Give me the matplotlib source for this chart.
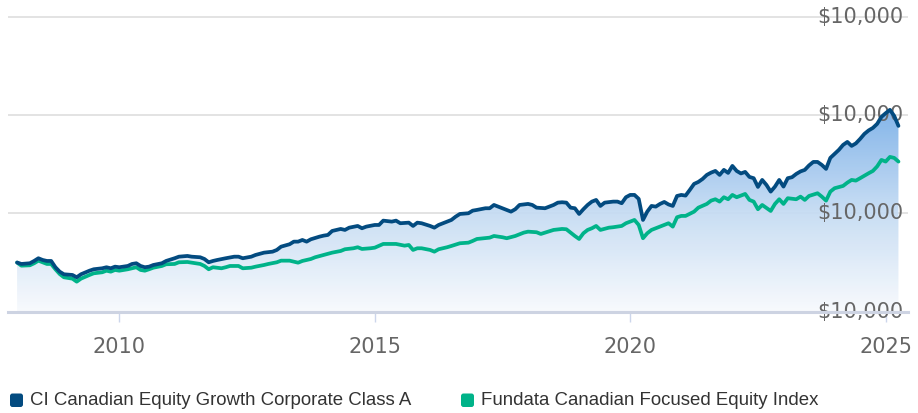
import numpy as np
import matplotlib
matplotlib.use("Agg")
import matplotlib.pyplot as plt
from matplotlib.patches import FancyBboxPatch, Polygon
from matplotlib.colors import LinearSegmentedColormap

# Growth of $10,000 -- month offsets counted from the December 2007 month-end
fund_months = [0, 1, 3, 4, 5, 6, 7, 8, 9, 10, 11, 13, 14, 15, 17, 18, 20, 21, 22, 23,
               24, 26, 27, 28, 29, 30, 31, 32, 34, 35, 37, 38, 40, 41, 43, 44, 45, 46, 47, 49,
               51, 52, 53, 55, 56, 58, 60, 61, 62, 64, 65, 66, 67, 68, 69, 71, 72, 73, 74, 76,
               77, 78, 80, 81, 82, 84, 85, 86, 88, 89, 90, 92, 93, 94, 95, 97, 98, 99, 101, 102,
               103, 104, 106, 107, 108, 110, 111, 112, 113, 115, 116, 117, 118, 120, 121, 122, 124, 125, 126, 127,
               128, 129, 130, 131, 132, 133, 134, 135, 136, 137, 138, 140, 141, 142, 143, 144, 145, 146, 147, 148,
               149, 150, 151, 152, 153, 154, 155, 156, 157, 158, 159, 160, 161, 162, 163, 164, 165, 166, 167, 168,
               169, 170, 171, 172, 173, 174, 175, 176, 177, 178, 179, 180, 181, 182, 183, 184, 185, 186, 187, 188,
               189, 190, 191, 192, 193, 194, 195, 196, 197, 198, 199, 200, 201, 202, 203, 204, 205, 206, 207]
fund_values = [10000, 9710, 9850, 10320, 10870, 10520, 10320, 10320, 9040, 8140, 7610, 7470, 7000, 7610, 8340, 8630, 8830, 9040, 8830, 9160,
               9040, 9300, 9710, 9850, 9300, 9040, 9160, 9500, 9850, 10320, 10870, 11190, 11340, 11190, 11070, 10720, 10050, 10320, 10520, 10870,
               11190, 11190, 10870, 11190, 11540, 12010, 12210, 12560, 13230, 13720, 14250, 14250, 14590, 14250, 14730, 15260, 15470, 15610, 16420, 16830,
               16630, 17090, 17440, 16970, 17300, 17640, 17640, 18520, 18320, 18520, 17990, 18110, 17440, 18110, 17990, 17440, 17090, 17640, 18320, 18660,
               19330, 19880, 20020, 20550, 20700, 21040, 21040, 21710, 21370, 20700, 20350, 20840, 21710, 21920, 21710, 21160, 21040, 21370, 21710, 22180,
               22260, 22180, 21160, 21040, 19880, 20840, 21710, 22390, 22730, 21510, 22180, 22390, 22390, 22060, 23280, 23750, 23750, 22940, 18660, 20350,
               21510, 21370, 21920, 22320, 21810, 21510, 23540, 23750, 23610, 24770, 25990, 26390, 27000, 27820, 28290, 28630, 27820, 28840, 28230, 29650,
               28630, 28120, 28430, 27410, 27150, 25380, 26800, 25780, 24420, 25440, 26800, 25440, 27150, 27350, 28020, 28530, 28840, 29750, 30460, 30460,
               29850, 29040, 31280, 32090, 32910, 33920, 34530, 33720, 34230, 35140, 36160, 36870, 37380, 38200, 39620, 40370, 41050, 39820, 37790]

index_months = [0, 1, 3, 4, 5, 6, 7, 8, 9, 10, 11, 13, 14, 15, 17, 18, 20, 21, 22, 23,
                24, 26, 27, 28, 29, 30, 31, 32, 34, 35, 37, 38, 40, 41, 43, 44, 45, 46, 48, 49,
                50, 52, 53, 55, 56, 58, 59, 61, 62, 64, 66, 67, 69, 70, 72, 74, 76, 77, 79, 80,
                81, 83, 84, 86, 88, 89, 91, 92, 93, 94, 95, 97, 98, 99, 101, 102, 104, 106, 107, 108,
                111, 112, 114, 115, 117, 119, 120, 122, 123, 124, 126, 128, 129, 130, 131, 132, 133, 134, 135, 136,
                137, 139, 140, 142, 143, 144, 145, 146, 147, 148, 149, 150, 152, 153, 154, 155, 156, 157, 159, 160,
                162, 163, 164, 165, 166, 167, 168, 169, 171, 172, 173, 174, 175, 177, 178, 179, 180, 181, 183, 184,
                185, 186, 188, 189, 190, 191, 192, 194, 195, 196, 197, 198, 200, 201, 202, 203, 204, 205, 206, 207]
index_values = [10000, 9360, 9440, 9850, 10380, 10050, 9710, 9710, 8630, 7670, 7000, 6720, 6110, 6720, 7470, 7810, 8020, 8340, 8140, 8490,
                8340, 8630, 8830, 9040, 8490, 8340, 8630, 8950, 9300, 9650, 9710, 10050, 10110, 9970, 9710, 9300, 8630, 9040, 8830, 9040,
                9300, 9300, 8830, 8950, 9160, 9500, 9710, 10050, 10380, 10380, 9970, 10320, 10720, 11070, 11540, 12010, 12350, 12700, 12900, 13110,
                12760, 12900, 13020, 13780, 13780, 13780, 13430, 13570, 12560, 12900, 12900, 12560, 12210, 12700, 13110, 13370, 13920, 14040, 14390, 14790,
                15060, 15400, 15140, 14940, 15400, 16080, 16280, 16160, 15810, 16080, 16630, 16830, 16770, 16080, 15400, 14790, 15950, 16630, 16970, 17440,
                16630, 17090, 17180, 17440, 17990, 18320, 18660, 17640, 14940, 15950, 16630, 16970, 17640, 17990, 17300, 19210, 19480, 19480, 20350, 21160,
                21920, 22590, 22870, 22390, 23280, 22870, 23750, 23280, 23950, 22730, 22390, 20840, 21710, 20490, 21920, 22870, 21920, 23080, 22870, 23400,
                22730, 23540, 24090, 23400, 22590, 24420, 25110, 25580, 26250, 26800, 26660, 27150, 28160, 28630, 29550, 30870, 30530, 31480, 31280, 30530]

series_names = ["CI Canadian Equity Growth Corporate Class A",
                "Fundata Canadian Focused Equity Index"]
series_colors = ["#034b80", "#00b389"]
year_ticks = [2010, 2015, 2020, 2025]
value_ticks = [0, 20000, 40000, 60000]
value_tick_labels = ["$10,000", "$10,000", "$10,000", "$10,000"]

W, H = 918, 413
fig = plt.figure(figsize=(W / 100, H / 100), dpi=100)
fig.patch.set_facecolor("white")

# plot area in pixel terms
px_left, px_right = 8, 908
px_bottom, px_top = 311.7, 9.3
ax = fig.add_axes([px_left / W, (H - px_bottom) / H,
                   (px_right - px_left) / W, (px_bottom - px_top) / H])
ax.set_facecolor("none")

t_fund = 2008 + np.asarray(fund_months) / 12.0
t_index = 2008 + np.asarray(index_months) / 12.0
v_fund = np.asarray(fund_values, dtype=float)
v_index = np.asarray(index_values, dtype=float)

x_lo, x_hi = 2007.822, 2025.437
y_lo, y_hi = 0, 61500

# horizontal grid
for v in value_ticks[1:]:
    ax.axhline(v, color="#e3e3e3", lw=1.4, zorder=0.5)

# gradient area under the fund line
cmap = LinearSegmentedColormap.from_list("area", ["#f8fafd", "#c4dbf3", "#7bb0e8"])
grad = np.linspace(0, 1, 256).reshape(-1, 1)
im = ax.imshow(grad, extent=[t_fund[0], t_fund[-1], 0, v_fund.max()], origin="lower",
               aspect="auto", cmap=cmap, zorder=1, alpha=0.93, interpolation="bilinear")
verts = [(t_fund[0], 0)] + list(zip(t_fund, v_fund)) + [(t_fund[-1], 0)]
clip = Polygon(verts, closed=True, facecolor="none", edgecolor="none")
ax.add_patch(clip)
im.set_clip_path(clip)

# value labels sit inside the plot, right-aligned
for v, lab in zip(value_ticks, value_tick_labels):
    ax.text((903 - px_left) / (px_right - px_left), v, lab, transform=ax.get_yaxis_transform(),
            ha="right", va="center", fontsize=15, color="#666666",
            family="DejaVu Sans", zorder=3)

ax.plot(t_index, v_index, color=series_colors[1], lw=2.7, zorder=4,
        solid_joinstyle="round", solid_capstyle="round")
ax.plot(t_fund, v_fund, color=series_colors[0], lw=2.7, zorder=5,
        solid_joinstyle="round", solid_capstyle="round")

# x axis baseline
ax.axhline(0, color="#cdd3e2", lw=2.2, zorder=6, clip_on=False)

ax.set_xlim(x_lo, x_hi)
ax.set_ylim(y_lo, y_hi)
for s in ax.spines.values():
    s.set_visible(False)
ax.set_yticks([])
ax.set_xticks(year_ticks)
ax.set_xticklabels([str(y) for y in year_ticks])
ax.tick_params(axis="x", length=7.5, width=1, color="#ccd6eb", direction="out",
               labelsize=15, labelcolor="#666666", pad=11)

# legend row
lg = fig.add_axes([0, 0, 1, 1], zorder=-1)
lg.set_xlim(0, W)
lg.set_ylim(H, 0)
lg.axis("off")
legend_x = [10, 461]
for x0, name, col in zip(legend_x, series_names, series_colors):
    lg.add_patch(FancyBboxPatch((x0, 393.5), 13, 13.5,
                                boxstyle="round,pad=0,rounding_size=2.5",
                                facecolor=col, edgecolor="none"))
    lg.text(x0 + 20, 400.5, name, ha="left", va="center", fontsize=13.4,
            family="Liberation Sans", color="#333333")

fig.savefig("out.png", dpi=100, facecolor="white")
